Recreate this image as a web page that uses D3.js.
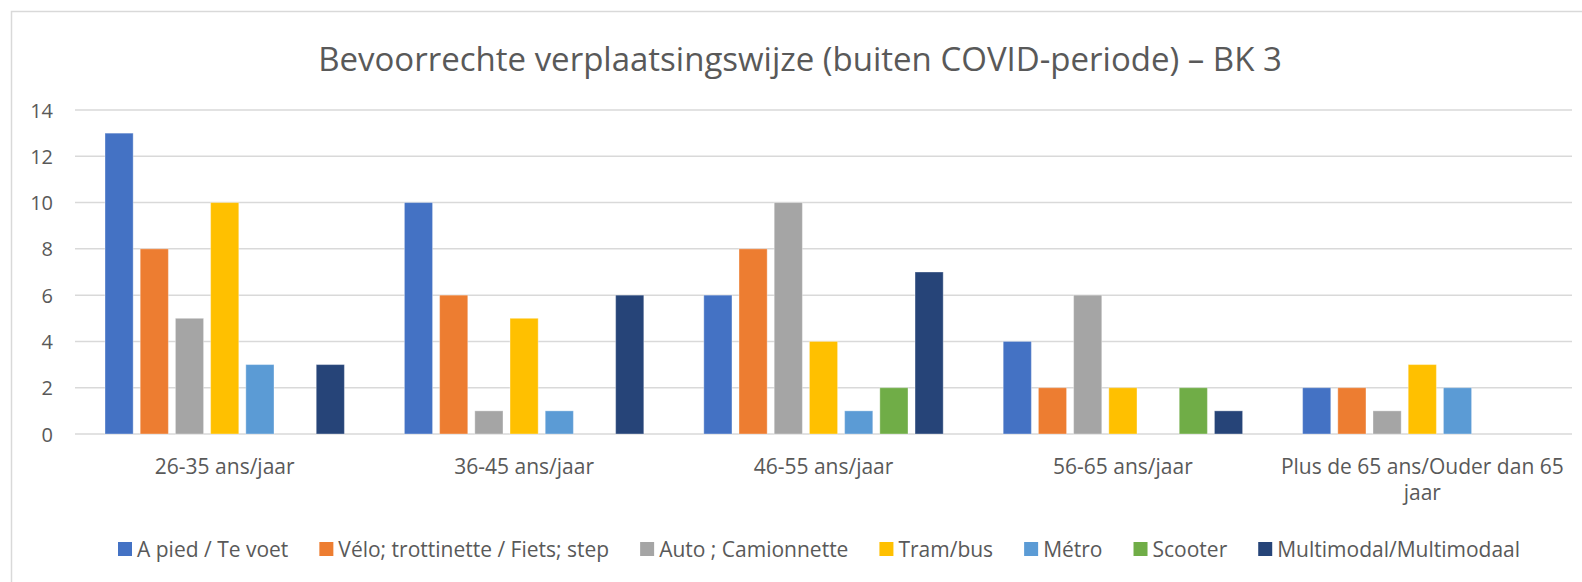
<!DOCTYPE html>
<html>
<head>
<meta charset="utf-8">
<script src="https://cdn.jsdelivr.net/npm/d3@7"></script>
<style>
  html, body { margin: 0; padding: 0; background: #fff; }
  svg { display: block; }
  text { font-family: "Open Sans", "Liberation Sans", sans-serif; fill: #595959; }
</style>
</head>
<body>
<svg id="chart" width="1582" height="582"></svg>
<script>
// Age groups (x-axis categories)
const categories = [
  "26-35 ans/jaar",
  "36-45 ans/jaar",
  "46-55 ans/jaar",
  "56-65 ans/jaar",
  "Plus de 65 ans/Ouder dan 65 jaar"
];

// Transport modes (series)
const seriesNames = [
  "A pied / Te voet",
  "Vélo; trottinette / Fiets; step",
  "Auto ; Camionnette",
  "Tram/bus",
  "Métro",
  "Scooter",
  "Multimodal/Multimodaal"
];

// Counts per mode, one value per age group
const aPied      = [13, 10, 6, 4, 2];
const velo       = [8, 6, 8, 2, 2];
const auto       = [5, 1, 10, 6, 1];
const tramBus    = [10, 5, 4, 2, 3];
const metro      = [3, 1, 1, 0, 2];
const scooter    = [0, 0, 2, 2, 0];
const multimodal = [3, 6, 7, 1, 0];

const yTicks = [0, 2, 4, 6, 8, 10, 12, 14];

const title = "Bevoorrechte verplaatsingswijze (buiten COVID-periode) – BK 3";

const colors = ["#4472C4", "#ED7D31", "#A5A5A5", "#FFC000", "#5B9BD5", "#70AD47", "#264478"];

const seriesValues = [aPied, velo, auto, tramBus, metro, scooter, multimodal];

const svg = d3.select("#chart");

// Chart frame (left and top edges visible)
svg.append("rect")
  .attr("x", 11.5).attr("y", 11.5)
  .attr("width", 1600).attr("height", 600)
  .attr("fill", "none")
  .attr("stroke", "#d9d9d9")
  .attr("stroke-width", 1.5);

const plot = { left: 75, right: 1572, top: 110, bottom: 434 };

const x0 = d3.scaleBand()
  .domain(categories)
  .range([plot.left, plot.right])
  .padding(0);

const x1 = d3.scaleBand()
  .domain(seriesNames)
  .range([30, x0.bandwidth() - 30])
  .paddingInner(0.2)
  .paddingOuter(0);

const y = d3.scaleLinear()
  .domain([0, 14])
  .range([plot.bottom, plot.top]);

// Title
svg.append("text")
  .attr("x", 800)
  .attr("y", 71)
  .attr("text-anchor", "middle")
  .style("font-size", "33px")
  .text(title);

// Gridlines
svg.append("g")
  .selectAll("line")
  .data(yTicks)
  .join("line")
  .attr("x1", plot.left)
  .attr("x2", plot.right)
  .attr("y1", d => y(d))
  .attr("y2", d => y(d))
  .attr("stroke", "#d9d9d9")
  .attr("stroke-width", 1.5);

// Y axis labels
const yAxis = d3.axisLeft(y).tickValues(yTicks).tickSize(0).tickPadding(0);
const yg = svg.append("g")
  .attr("transform", `translate(53,0)`)
  .call(yAxis);
yg.select(".domain").remove();
yg.selectAll("text")
  .style("font-size", "20px")
  .style("font-family", null)
  .attr("fill", null)
  .attr("dy", "0.35em");

// Bars
const rows = [];
categories.forEach((c, ci) => {
  seriesNames.forEach((s, si) => {
    rows.push({ cat: c, series: s, value: seriesValues[si][ci], color: colors[si] });
  });
});

svg.append("g")
  .selectAll("rect")
  .data(rows.filter(d => d.value > 0))
  .join("rect")
  .attr("x", d => x0(d.cat) + x1(d.series))
  .attr("y", d => y(d.value))
  .attr("width", x1.bandwidth())
  .attr("height", d => y(0) - y(d.value))
  .attr("fill", d => d.color)
  .attr("stroke", "rgba(255,255,255,0.35)")
  .attr("stroke-width", 1);

// X axis labels (wrapped to fit the band)
const xAxis = d3.axisBottom(x0).tickSize(0).tickPadding(0);
const xg = svg.append("g")
  .attr("transform", `translate(0,${plot.bottom})`)
  .call(xAxis);
xg.select(".domain").remove();
xg.selectAll("text")
  .style("font-size", "21px")
  .style("font-family", null)
  .attr("fill", null)
  .attr("y", 40)
  .attr("dy", null)
  .each(function (d) {
    const t = d3.select(this);
    const words = d.split(" ");
    const maxW = x0.bandwidth() - 10;
    t.text(null);
    let line = [];
    let lineNo = 0;
    let tspan = t.append("tspan").attr("x", 0).attr("y", 40);
    words.forEach(w => {
      line.push(w);
      tspan.text(line.join(" "));
      if (tspan.node().getComputedTextLength() > maxW && line.length > 1) {
        line.pop();
        tspan.text(line.join(" "));
        line = [w];
        lineNo++;
        tspan = t.append("tspan").attr("x", 0).attr("y", 40 + lineNo * 26).text(w);
      }
    });
  });

// Legend
const legend = svg.append("g").attr("transform", "translate(118,0)");
let lx = 0;
seriesNames.forEach((s, i) => {
  const g = legend.append("g").attr("transform", `translate(${lx},0)`);
  g.append("rect")
    .attr("x", 0).attr("y", 542)
    .attr("width", 14).attr("height", 14)
    .attr("fill", colors[i]);
  const t = g.append("text")
    .attr("x", 19).attr("y", 557)
    .style("font-size", "21px")
    .text(s);
  lx += 19 + t.node().getComputedTextLength() + 31;
});
</script>
</body>
</html>
